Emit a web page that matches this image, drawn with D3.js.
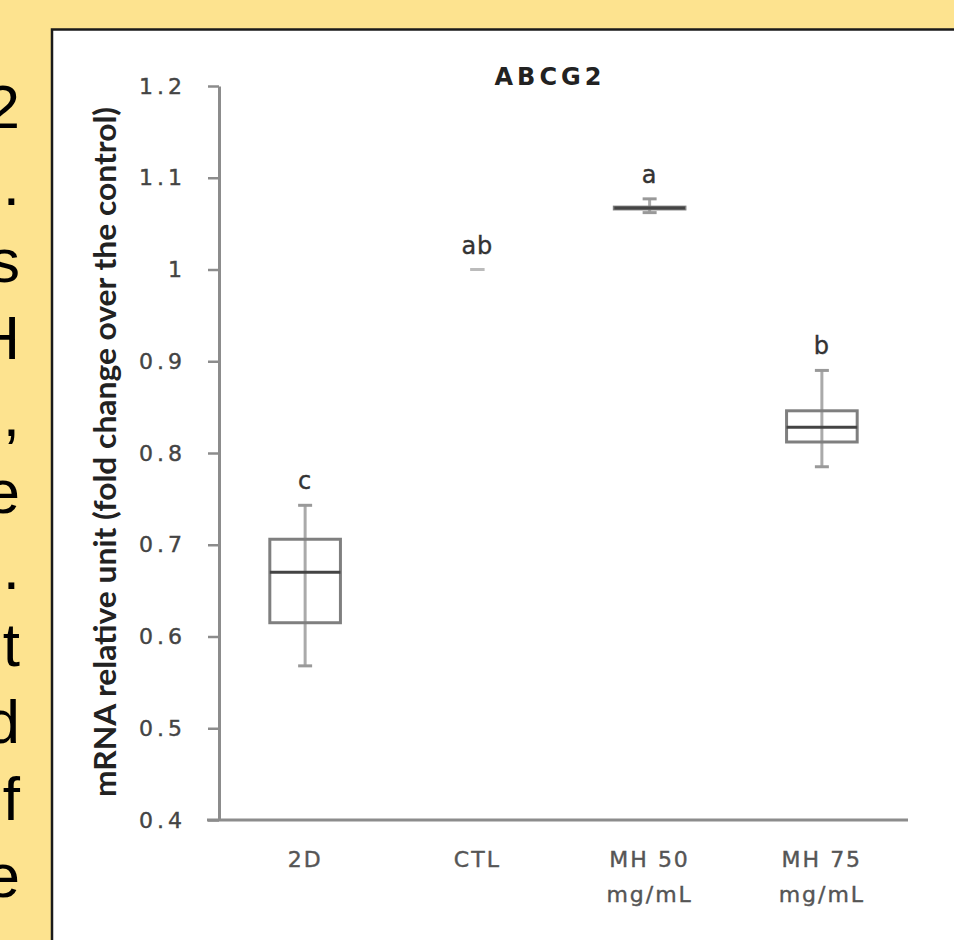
<!DOCTYPE html>
<html>
<head>
<meta charset="utf-8">
<script src="https://cdn.jsdelivr.net/npm/d3@7"></script>
<style>
  html, body { margin: 0; padding: 0; background: #fde38f; }
  svg { display: block; }
</style>
</head>
<body>
<div id="chart"></div>
<script>
// cropped paragraph on the left of the slide (only the line ends are visible)
const sideText = ['2', '.', 's', 'H', ',', 'e', '.', 't', 'd', 'f', 'e'];

const categories = ['2D', 'CTL', 'MH 50 mg/mL', 'MH 75 mg/mL'];
const categoryLines = [['2D'], ['CTL'], ['MH 50', 'mg/mL'], ['MH 75', 'mg/mL']];
const whiskerLow = [0.568, 1.0, 1.062, 0.785];
const q1 = [0.615, 1.0, 1.066, 0.812];
const median = [0.670, 1.0, 1.067, 0.828];
const q3 = [0.706, 1.0, 1.068, 0.846];
const whiskerHigh = [0.743, 1.0, 1.077, 0.890];
const groupLetters = ['c', 'ab', 'a', 'b'];
const yTicks = [0.4, 0.5, 0.6, 0.7, 0.8, 0.9, 1.0, 1.1, 1.2];

const W = 954, H = 940;
const svg = d3.select('#chart').append('svg')
    .attr('width', W)
    .attr('height', H);

// slide text column
svg.append('g')
    .selectAll('text')
    .data(sideText)
    .enter().append('text')
    .attr('x', 20)
    .attr('y', (d, i) => 128 + i * 76.9)
    .attr('text-anchor', 'end')
    .attr('font-family', 'Liberation Sans, Arial, sans-serif')
    .attr('font-size', 62)
    .attr('fill', '#000')
    .text(d => d);

// white figure panel
svg.append('rect')
    .attr('x', 52)
    .attr('y', 29.5)
    .attr('width', W)
    .attr('height', H)
    .attr('fill', '#fff')
    .attr('stroke', '#1a1a1a')
    .attr('stroke-width', 2.5);

const margin = { top: 86, left: 219, right: 46, bottom: 120 };
const plotBottom = H - margin.bottom;

const x = d3.scaleBand()
    .domain(categories)
    .range([margin.left, W - margin.right]);

const y = d3.scaleLinear()
    .domain([0.4, 1.2])
    .range([plotBottom, margin.top]);

const axisColor = '#8c8c8c';
const chartFont = 'DejaVu Sans, Verdana, sans-serif';

// y axis
const yAxis = svg.append('g')
    .attr('transform', `translate(${margin.left},0)`)
    .call(d3.axisLeft(y)
        .tickValues(yTicks)
        .tickSize(11)
        .tickSizeOuter(0)
        .tickPadding(22)
        .tickFormat(d => String(+d.toFixed(1))));
yAxis.select('.domain').attr('stroke', axisColor).attr('stroke-width', 3);
yAxis.selectAll('.tick line').attr('stroke', axisColor).attr('stroke-width', 2.5);
yAxis.selectAll('.tick text')
    .attr('font-family', chartFont)
    .attr('font-size', 22)
    .attr('letter-spacing', 4)
    .attr('stroke', '#444')
    .attr('stroke-width', 0.4)
    .attr('fill', '#444');

// x axis: plain baseline, no ticks
svg.append('line')
    .attr('x1', x.range()[0] - 12)
    .attr('x2', x.range()[1])
    .attr('y1', y(0.4))
    .attr('y2', y(0.4))
    .attr('stroke', axisColor)
    .attr('stroke-width', 3);

const xLabels = svg.append('g')
    .selectAll('text')
    .data(categories)
    .enter().append('text')
    .attr('x', d => x(d) + x.bandwidth() / 2)
    .attr('y', plotBottom + 47)
    .attr('text-anchor', 'middle')
    .attr('font-family', chartFont)
    .attr('font-size', 22)
    .attr('letter-spacing', 2)
    .attr('stroke', '#555')
    .attr('stroke-width', 0.4)
    .attr('fill', '#555');
xLabels.selectAll('tspan')
    .data((d, i) => categoryLines[i])
    .enter().append('tspan')
    .attr('x', function () { return this.parentNode.getAttribute('x'); })
    .attr('dy', (d, i) => i === 0 ? 0 : 35)
    .text(d => d);

// y axis title
svg.append('text')
    .attr('transform', `translate(116,${(margin.top + plotBottom) / 2 - 1}) rotate(-90)`)
    .attr('text-anchor', 'middle')
    .attr('font-family', 'Lato, Open Sans, sans-serif')
    .attr('font-weight', 'bold')
    .attr('font-size', 31)
    .attr('fill', '#222')
    .attr('textLength', 690)
    .attr('lengthAdjust', 'spacingAndGlyphs')
    .text('mRNA relative unit (fold change over the control)');

// chart title
svg.append('text')
    .attr('x', 550)
    .attr('y', 85)
    .attr('text-anchor', 'middle')
    .attr('font-family', chartFont)
    .attr('font-weight', 'bold')
    .attr('font-size', 24)
    .attr('letter-spacing', 4)
    .attr('fill', '#222')
    .text('ABCG2');

// box plots
const boxW = x.bandwidth() * 0.41;
const capW = 14;
const boxes = svg.append('g')
    .selectAll('g')
    .data(categories)
    .enter().append('g')
    .attr('transform', d => `translate(${x(d) + x.bandwidth() / 2},0)`);

boxes.each(function (d, i) {
    const g = d3.select(this);
    const spread = whiskerHigh[i] - whiskerLow[i];
    if (spread > 0) {
        // whisker
        g.append('line')
            .attr('x1', 0).attr('x2', 0)
            .attr('y1', y(whiskerHigh[i]))
            .attr('y2', y(whiskerLow[i]))
            .attr('stroke', '#aaa')
            .attr('stroke-width', 3);
    }
    [whiskerLow[i], whiskerHigh[i]].forEach(v => {
        g.append('line')
            .attr('x1', -capW / 2).attr('x2', capW / 2)
            .attr('y1', y(v)).attr('y2', y(v))
            .attr('stroke', spread > 0 ? '#999' : '#bbb')
            .attr('stroke-width', 3);
    });
    if (spread > 0) {
        g.append('rect')
            .attr('x', -boxW / 2)
            .attr('y', y(q3[i]))
            .attr('width', boxW)
            .attr('height', Math.max(0, y(q1[i]) - y(q3[i])))
            .attr('fill', 'none')
            .attr('stroke', '#7f7f7f')
            .attr('stroke-width', 3);
        g.append('line')
            .attr('x1', -boxW / 2).attr('x2', boxW / 2)
            .attr('y1', y(median[i])).attr('y2', y(median[i]))
            .attr('stroke', '#444')
            .attr('stroke-width', 3);
    }
    g.append('text')
        .attr('x', 0)
        .attr('y', y(whiskerHigh[i]) - 16)
        .attr('text-anchor', 'middle')
        .attr('font-family', chartFont)
        .attr('font-size', 24)
        .attr('letter-spacing', 1)
        .attr('stroke', '#333')
        .attr('stroke-width', 0.4)
        .attr('fill', '#333')
        .text(groupLetters[i]);
});
</script>
</body>
</html>
